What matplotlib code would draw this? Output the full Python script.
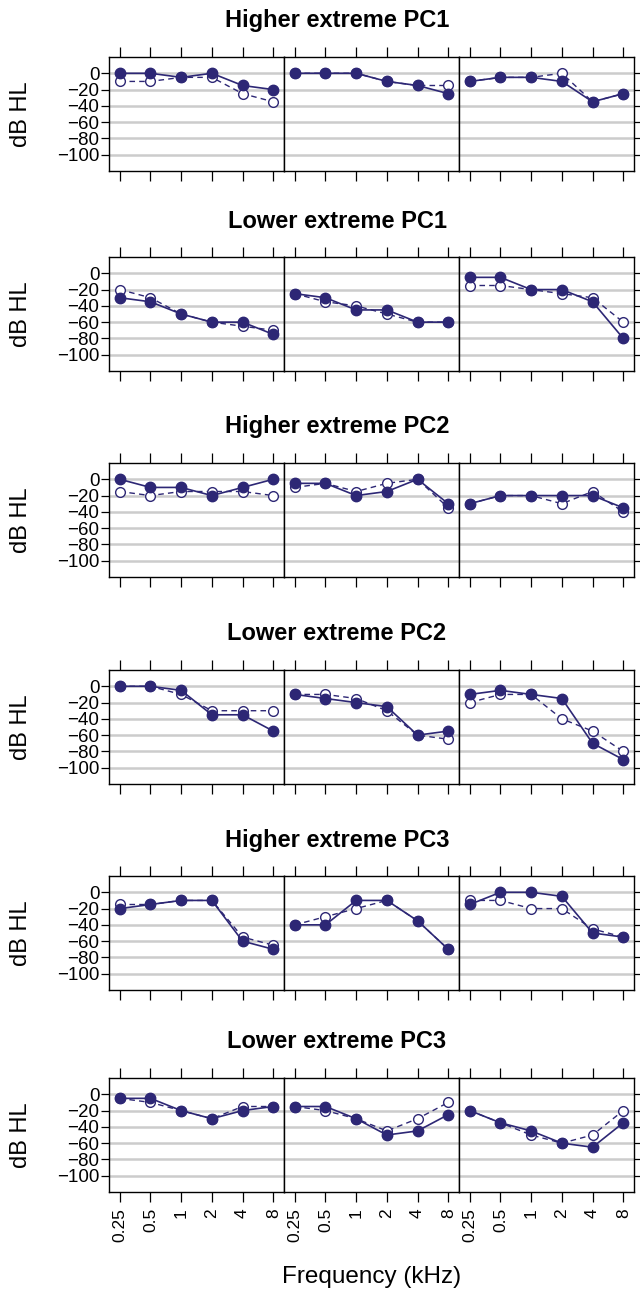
import matplotlib
matplotlib.use("Agg")
import matplotlib.pyplot as plt

plt.rcParams.update({"font.family": ["Liberation Sans", "DejaVu Sans"]})

FREQ_LABELS = ["0.25", "0.5", "1", "2", "4", "8"]
TITLES = ["Higher extreme PC1", "Lower extreme PC1", "Higher extreme PC2",
          "Lower extreme PC2", "Higher extreme PC3", "Lower extreme PC3"]
YTICKS = [0, -20, -40, -60, -80, -100]

# filled = solid line, open = dashed line; three panels per row
pc1_hi_filled = [[0, 0, -5, 0, -15, -20], [0, 0, 0, -10, -15, -25], [-10, -5, -5, -10, -35, -25]]
pc1_hi_open = [[-10, -10, -5, -5, -25, -35], [0, 0, 0, -10, -15, -15], [-10, -5, -5, 0, -35, -25]]
pc1_lo_filled = [[-30, -35, -50, -60, -60, -75], [-25, -30, -45, -45, -60, -60], [-5, -5, -20, -20, -35, -80]]
pc1_lo_open = [[-20, -30, -50, -60, -65, -70], [-25, -35, -40, -50, -60, -60], [-15, -15, -20, -25, -30, -60]]
pc2_hi_filled = [[0, -10, -10, -20, -10, 0], [-5, -5, -20, -15, 0, -30], [-30, -20, -20, -20, -20, -35]]
pc2_hi_open = [[-15, -20, -15, -15, -15, -20], [-10, -5, -15, -5, 0, -35], [-30, -20, -20, -30, -15, -40]]
pc2_lo_filled = [[0, 0, -5, -35, -35, -55], [-10, -15, -20, -25, -60, -55], [-10, -5, -10, -15, -70, -90]]
pc2_lo_open = [[0, 0, -10, -30, -30, -30], [-10, -10, -15, -30, -60, -65], [-20, -10, -10, -40, -55, -80]]
pc3_hi_filled = [[-20, -15, -10, -10, -60, -70], [-40, -40, -10, -10, -35, -70], [-15, 0, 0, -5, -50, -55]]
pc3_hi_open = [[-15, -15, -10, -10, -55, -65], [-40, -30, -20, -10, -35, -70], [-10, -10, -20, -20, -45, -55]]
pc3_lo_filled = [[-5, -5, -20, -30, -20, -15], [-15, -15, -30, -50, -45, -25], [-20, -35, -45, -60, -65, -35]]
pc3_lo_open = [[-5, -10, -20, -30, -15, -15], [-15, -20, -30, -45, -30, -10], [-20, -35, -50, -60, -50, -20]]

FILLED = [pc1_hi_filled, pc1_lo_filled, pc2_hi_filled, pc2_lo_filled, pc3_hi_filled, pc3_lo_filled]
OPEN = [pc1_hi_open, pc1_lo_open, pc2_hi_open, pc2_lo_open, pc3_hi_open, pc3_lo_open]

COL = "#2d2775"
W, H = 640, 1292
BOX_TOPS = [57, 257, 463, 670, 876, 1078]   # pixel rows of panel tops
BOX_H = 114
PANEL_LEFT = [109, 284, 459]
PANEL_W = 175

fig = plt.figure(figsize=(W / 100, H / 100), dpi=100)
x = list(range(len(FREQ_LABELS)))

for r, top in enumerate(BOX_TOPS):
    last = r == len(BOX_TOPS) - 1
    for c, left in enumerate(PANEL_LEFT):
        ax = fig.add_axes([left / W, 1 - (top + BOX_H) / H, PANEL_W / W, BOX_H / H])
        ax.set_xlim(-0.35, 5.35)
        ax.set_ylim(-120, 20)
        for yv in YTICKS:
            ax.axhline(yv, color="#cccccc", lw=1.8, zorder=0)
        ax.plot(x, OPEN[r][c], ls=(0, (4, 3)), color=COL, lw=1, marker="o", ms=7,
                mfc="white", mec=COL, mew=1, zorder=2)
        ax.plot(x, FILLED[r][c], ls="-", color=COL, lw=1.2, marker="o", ms=7.5,
                mfc=COL, mec=COL, zorder=3)
        for s in ax.spines.values():
            s.set_linewidth(1.0)
        ax.set_xticks(x)
        ax.tick_params(axis="x", direction="out", length=7.5, width=0.9,
                       top=True, bottom=True, labeltop=False,
                       labelbottom=last, labelsize=12.5, labelrotation=90, pad=4)
        if last:
            ax.set_xticklabels(FREQ_LABELS)
        ax.set_yticks(YTICKS)
        ax.tick_params(axis="y", direction="out", width=0.9,
                       left=(c == 0), right=(c == 2), labelleft=(c == 0),
                       labelright=False, labelsize=13.5, length=5.5, pad=1.5)
        if c == 0:
            ax.set_yticklabels([str(v).replace("-", "\u2212") for v in YTICKS])
            ax.set_ylabel("dB HL", fontsize=17, va="center")
            ax.yaxis.set_label_coords((21 - left) / PANEL_W, 0.5)
    fig.text(337 / W, 1 - (top - 36) / H, TITLES[r], ha="center", va="center",
             fontsize=17, fontweight="bold")

fig.text((PANEL_LEFT[0] + 3 * PANEL_W / 2) / W, 1 - 1277 / H, "Frequency (kHz)",
         ha="center", va="center", fontsize=17.5)

fig.savefig("out.png", dpi=100)
